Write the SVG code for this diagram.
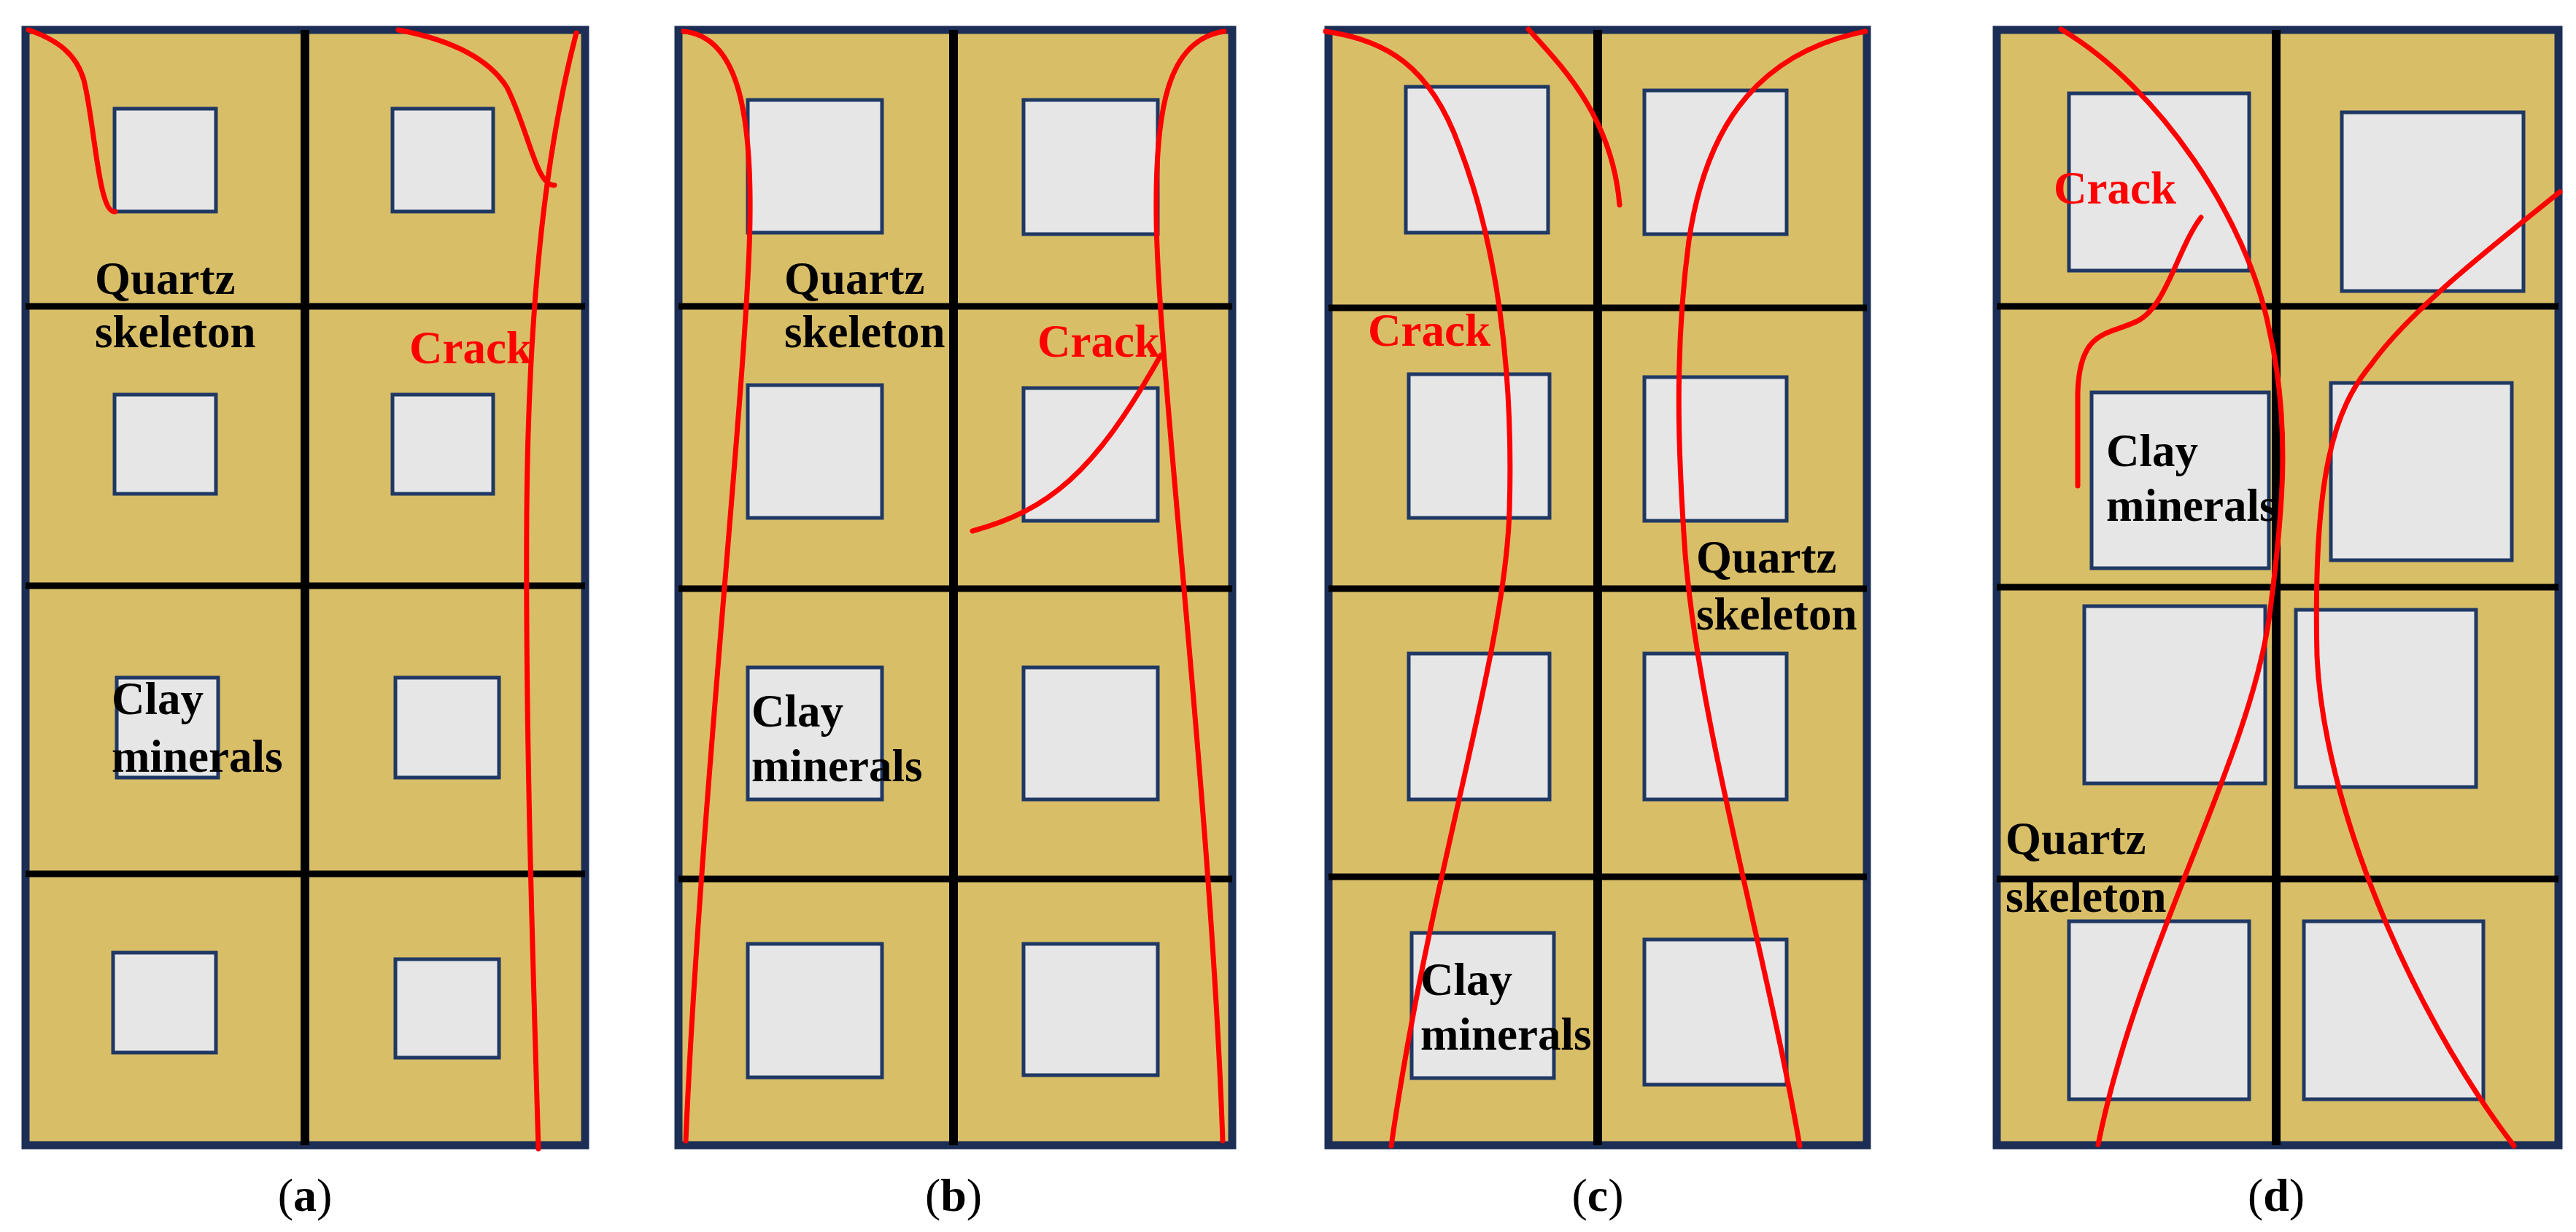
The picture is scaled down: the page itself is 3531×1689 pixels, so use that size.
<svg xmlns="http://www.w3.org/2000/svg" width="3531" height="1689" viewBox="0 0 3531 1689">
<style>
.frame{fill:#D9BE68;stroke:#1C2E55;stroke-width:11}
.g{stroke:#000;stroke-width:9;fill:none}
.v{stroke:#000;stroke-width:12;fill:none}
.box{fill:#E6E6E6;stroke:#1F3864;stroke-width:5}
.crack{fill:none;stroke:#FF0000;stroke-width:7;stroke-linecap:round}
.t{font-family:"Liberation Serif","Times New Roman",serif;font-weight:bold;font-size:63px;fill:#000}
.r{fill:#FF0000}
.cap{font-family:"Liberation Serif","Times New Roman",serif;font-size:64px;fill:#000;text-anchor:middle}
</style>
<g id="panel-a">
<rect class="frame" x="35" y="41" width="767" height="1529"/>
<line class="v" x1="418" y1="41" x2="418" y2="1570"/>
<line class="g" x1="35" y1="420" x2="802" y2="420"/>
<line class="g" x1="35" y1="803" x2="802" y2="803"/>
<line class="g" x1="35" y1="1198" x2="802" y2="1198"/>
<rect class="box" x="157" y="149" width="139" height="141"/>
<rect class="box" x="538" y="149" width="138" height="141"/>
<rect class="box" x="157" y="541" width="139" height="136"/>
<rect class="box" x="538" y="541" width="138" height="136"/>
<rect class="box" x="160" y="929" width="139" height="137"/>
<rect class="box" x="542" y="929" width="142" height="137"/>
<rect class="box" x="155" y="1306" width="141" height="137"/>
<rect class="box" x="542" y="1315" width="142" height="135"/>
<path class="crack" d="M39,41 C80,55 105,75 115,110 C130,170 135,295 158,290"/>
<path class="crack" d="M546,41 C620,55 670,80 695,120 C725,180 735,255 760,254"/>
<path class="crack" d="M790,45 C760,160 725,350 722,700 C720,1000 730,1300 738,1575"/>
<text class="t" x="130" y="403">Quartz</text>
<text class="t" x="130" y="476">skeleton</text>
<text class="t r" x="561" y="498">Crack</text>
<text class="t" x="153" y="979">Clay</text>
<text class="t" x="153" y="1058">minerals</text>
<text class="cap" x="418" y="1660">(<tspan font-weight="bold">a</tspan>)</text>
</g>
<g id="panel-b">
<rect class="frame" x="930" y="41" width="759" height="1529"/>
<line class="v" x1="1307" y1="41" x2="1307" y2="1570"/>
<line class="g" x1="930" y1="420" x2="1689" y2="420"/>
<line class="g" x1="930" y1="807" x2="1689" y2="807"/>
<line class="g" x1="930" y1="1205" x2="1689" y2="1205"/>
<rect class="box" x="1025" y="137" width="184" height="182"/>
<rect class="box" x="1403" y="137" width="184" height="184"/>
<rect class="box" x="1025" y="528" width="184" height="182"/>
<rect class="box" x="1403" y="532" width="184" height="182"/>
<rect class="box" x="1025" y="915" width="184" height="181"/>
<rect class="box" x="1403" y="915" width="184" height="181"/>
<rect class="box" x="1025" y="1294" width="184" height="183"/>
<rect class="box" x="1403" y="1294" width="184" height="180"/>
<path class="crack" d="M937,43 C1010,50 1030,150 1028,300 C1026,500 960,1100 940,1564"/>
<path class="crack" d="M1678,43 C1600,55 1583,150 1585,300 C1587,500 1660,1100 1676,1564"/>
<path class="crack" d="M1333,728 C1436,700 1500,650 1591,487"/>
<text class="t" x="1075" y="403">Quartz</text>
<text class="t" x="1075" y="476">skeleton</text>
<text class="t r" x="1422" y="489">Crack</text>
<text class="t" x="1030" y="996">Clay</text>
<text class="t" x="1030" y="1071">minerals</text>
<text class="cap" x="1307" y="1660">(<tspan font-weight="bold">b</tspan>)</text>
</g>
<g id="panel-c">
<rect class="frame" x="1821" y="41" width="738" height="1529"/>
<line class="v" x1="2190" y1="41" x2="2190" y2="1570"/>
<line class="g" x1="1821" y1="422" x2="2559" y2="422"/>
<line class="g" x1="1821" y1="807" x2="2559" y2="807"/>
<line class="g" x1="1821" y1="1202" x2="2559" y2="1202"/>
<rect class="box" x="1927" y="119" width="195" height="200"/>
<rect class="box" x="2254" y="124" width="195" height="197"/>
<rect class="box" x="1931" y="513" width="193" height="197"/>
<rect class="box" x="2254" y="517" width="195" height="197"/>
<rect class="box" x="1931" y="896" width="193" height="200"/>
<rect class="box" x="2254" y="896" width="195" height="200"/>
<rect class="box" x="1935" y="1279" width="195" height="199"/>
<rect class="box" x="2254" y="1288" width="195" height="199"/>
<path class="crack" d="M1817,43 C1900,55 1960,90 2000,200 C2050,330 2075,500 2069,700 C2063,900 1960,1200 1907,1571"/>
<path class="crack" d="M2095,40 C2140,90 2210,160 2220,281"/>
<path class="crack" d="M2557,43 C2420,70 2340,160 2315,330 C2295,480 2300,620 2310,760 C2330,1000 2420,1300 2467,1571"/>
<text class="t r" x="1875" y="474">Crack</text>
<text class="t" x="2325" y="785">Quartz</text>
<text class="t" x="2325" y="863">skeleton</text>
<text class="t" x="1947" y="1364">Clay</text>
<text class="t" x="1947" y="1439">minerals</text>
<text class="cap" x="2190" y="1660">(<tspan font-weight="bold">c</tspan>)</text>
</g>
<g id="panel-d">
<rect class="frame" x="2737" y="41" width="770" height="1529"/>
<line class="v" x1="3120" y1="41" x2="3120" y2="1570"/>
<line class="g" x1="2737" y1="420" x2="3507" y2="420"/>
<line class="g" x1="2737" y1="805" x2="3507" y2="805"/>
<line class="g" x1="2737" y1="1205" x2="3507" y2="1205"/>
<rect class="box" x="2836" y="128" width="247" height="243"/>
<rect class="box" x="3210" y="154" width="249" height="245"/>
<rect class="box" x="2867" y="538" width="243" height="241"/>
<rect class="box" x="3195" y="525" width="248" height="243"/>
<rect class="box" x="2857" y="831" width="248" height="243"/>
<rect class="box" x="3147" y="836" width="247" height="243"/>
<rect class="box" x="2836" y="1263" width="247" height="244"/>
<rect class="box" x="3158" y="1263" width="246" height="244"/>
<path class="crack" d="M2825,40 C2960,120 3080,300 3110,450 C3140,580 3130,700 3110,850 C3080,1050 2930,1300 2876,1569"/>
<path class="crack" d="M3017,298 C2985,340 2970,420 2930,440 C2890,460 2850,450 2848,540 L2848,666"/>
<path class="crack" d="M3509,263 C3400,350 3300,430 3250,500 C3200,560 3170,650 3176,900 C3185,1100 3300,1380 3446,1571"/>
<text class="t r" x="2815" y="279">Crack</text>
<text class="t" x="2887" y="639">Clay</text>
<text class="t" x="2887" y="714">minerals</text>
<text class="t" x="2749" y="1171">Quartz</text>
<text class="t" x="2749" y="1250">skeleton</text>
<text class="cap" x="3120" y="1660">(<tspan font-weight="bold">d</tspan>)</text>
</g>
</svg>
